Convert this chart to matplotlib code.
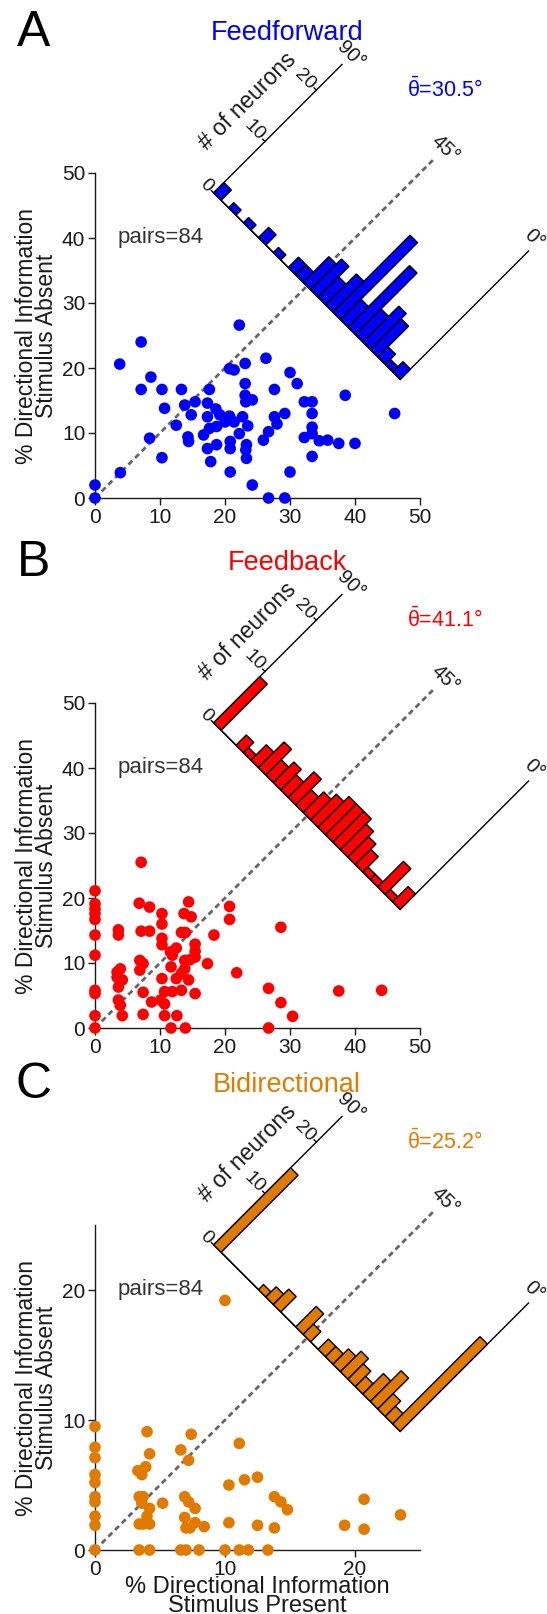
import numpy as np
import matplotlib
matplotlib.use("Agg")
import matplotlib.pyplot as plt
from matplotlib.transforms import Affine2D

plt.rcParams['font.family'] = ['Liberation Sans', 'DejaVu Sans']
plt.rcParams['mathtext.fontset'] = 'custom'
plt.rcParams['mathtext.rm'] = 'Liberation Sans'
plt.rcParams['mathtext.it'] = 'Liberation Sans'

# --- data -----------------------------------------------------------------
# % directional information, stimulus present (x) vs absent (y)
ff_x = [0, 0, 3.9, 3.8, 7.1, 7.1, 8.6, 8.4, 10.3, 10.7, 10.3, 12.5, 13.3, 13.8, 14.3,
        14.4, 14.8, 15.4, 16.7, 17.3, 17.3, 17.6, 17.3, 17.8, 17.6, 18.6, 18.7, 18.7,
        19.2, 20.0, 20.7, 20.8, 20.8, 20.8, 20.7, 21.4, 21.4, 22.2, 22.2, 22.7, 23.1,
        23.1, 23.1, 23.2, 23.3, 23.2, 23.3, 23.5, 24.2, 24.2, 25.9, 26.3, 26.7, 26.7,
        27.6, 27.6, 28.0, 29.2, 29.2, 30.0, 30.0, 31.1, 32.2, 32.2, 33.4, 33.4, 33.4,
        33.4, 33.4, 34.5, 35.8, 37.5, 38.5, 40.0, 46.1]
ff_y = [2.0, 0, 3.9, 20.6, 24.0, 16.7, 18.6, 9.2, 16.7, 13.8, 6.2, 11.2, 16.7, 14.3, 9.4,
        8.7, 12.8, 14.8, 9.7, 14.6, 12.5, 16.7, 7.6, 5.6, 10.7, 13.7, 11.0, 8.2,
        12.8, 11.7, 12.6, 8.7, 7.6, 4.0, 19.9, 19.7, 11.7, 26.6, 9.9, 12.5, 20.7,
        17.6, 15.8, 14.8, 8.2, 7.4, 6.1, 11.1, 15.1, 2.0, 8.9, 21.5, 10.2, 0,
        16.7, 12.5, 11.4, 13.0, 0, 19.3, 4.0, 17.6, 14.8, 9.3, 14.8, 13.0, 10.9,
        9.9, 6.4, 8.8, 8.9, 8.4, 15.8, 8.4, 13.0]

fb_x = [0, 0, 0, 0, 0, 0, 0, 0, 0, 0, 0, 3.6, 3.6, 3.4, 3.4, 3.9, 4.2, 3.6, 3.6, 3.9, 4.2,
        6.8, 7.1, 7.1, 6.9, 7.4, 6.9, 7.4, 7.4, 8.4, 8.4, 8.7, 10.3, 10.3, 10.3, 10.3,
        10.3, 10.1, 10.7, 10.7, 10.7, 11.6, 11.7, 11.7, 11.9, 11.9, 12.5, 12.5, 12.6,
        13.3, 13.3, 13.3, 13.7, 13.8, 13.8, 13.9, 13.9, 14.4, 14.4, 14.8, 14.6, 15.4,
        15.4, 15.4, 15.4, 17.3, 18.3, 20.7, 20.7, 21.8, 26.7, 26.7, 28.6, 28.6, 30.4,
        37.5, 44.1]
fb_y = [21.1, 19.1, 18.3, 17.6, 16.7, 14.3, 11.2, 5.8, 5.3, 1.9, 0, 15.1, 14.3, 8.6, 7.8,
        9.1, 7.4, 6.3, 4.3, 3.5, 1.9, 19.2, 25.5, 14.9, 10.4, 9.9, 8.9, 5.5, 2.1, 18.6,
        14.9, 4.0, 17.6, 16.0, 13.8, 12.8, 7.6, 4.3, 5.6, 3.7, 1.9, 11.7, 9.4, 0, 11.2,
        5.6, 12.3, 7.6, 1.9, 14.7, 8.4, 5.8, 17.6, 10.4, 9.1, 14.7, 0, 19.4, 7.4, 17.1,
        10.5, 12.9, 11.8, 10.9, 5.3, 9.9, 14.3, 18.7, 16.7, 8.5, 6.1, 0, 15.5, 3.9,
        1.8, 5.7, 5.8]

bi_x = [0, 0, 0, 0, 0, 0, 0, 0, 0, 0, 3.4, 3.3, 3.6, 3.9, 4.0, 4.2, 3.4, 3.7, 3.6, 4.2,
        3.4, 3.7, 4.0, 4.2, 4.2, 5.2, 6.6, 7.2, 7.4, 6.9, 7.2, 7.7, 6.9, 7.0, 7.3, 7.7,
        8.4, 6.6, 7.0, 8.0, 10.0, 10.3, 10.3, 10.0, 11.1, 11.5, 11.1, 11.8, 12.5, 12.5,
        13.3, 13.8, 13.8, 14.3, 14.8, 19.2, 20.7, 20.7, 23.5]
bi_y = [9.5, 7.9, 7.1, 5.8, 5.2, 4.1, 3.7, 2.6, 1.9, 0, 0, 6.1, 5.8, 6.4, 9.1, 7.4, 4.1,
        4.1, 3.6, 3.2, 2.0, 2.0, 2.6, 2.0, 0, 3.6, 7.7, 6.9, 8.9, 4.1, 3.7, 3.2, 2.5,
        1.7, 1.7, 2.1, 1.8, 0, 0, 0, 19.2, 5.0, 2.1, 0, 8.2, 5.4, 0, 0, 5.6, 1.9, 0,
        4.1, 1.7, 3.7, 3.1, 1.9, 3.9, 1.6, 2.7]

# number of neurons per angle bin, 25 bins running from 90 deg down to 0 deg
ff_hist = [2, 0, 1, 0, 1, 0, 2, 0, 1, 0, 2, 2, 5, 6, 4, 6, 15, 4, 12, 5, 7, 6, 2, 1, 2]
fb_hist = [9, 0, 0, 2, 1, 3, 5, 3, 4, 3, 5, 3, 4, 5, 6, 6, 6, 5, 4, 3, 1, 1, 5, 1, 3]
bi_hist = [15, 0, 0, 0, 0, 0, 1, 2, 3, 0, 0, 4, 2, 0, 2, 2, 3, 4, 3, 2, 4, 6, 3, 2, 17]

titles = ["Feedforward", "Feedback", "Bidirectional"]
letters = ["A", "B", "C"]
mean_theta = [30.5, 41.1, 25.2]
colors = ["#0000ff", "#ff0000", "#e07b00"]
n_pairs = 84
count_ticks = [0, 10, 20]
count_max = 25

# --- layout (pixels, origin top-left) --------------------------------------
W, H = 547, 1614
fig = plt.figure(figsize=(W / 100, H / 100), dpi=100)


def px_axes(x0, y0, x1, y1):
    return fig.add_axes([x0 / W, 1 - y1 / H, (x1 - x0) / W, (y1 - y0) / H])


def fig_text(x, y, s, **kw):
    fig.text(x / W, 1 - y / H, s, **kw)


panel_boxes = [(95, 173, 420, 498), (95, 703, 420, 1028), (95, 1225, 420, 1550)]
panel_tops = [33, 563, 1085]

# histogram geometry, in axes fraction of the scatter axes
S = (0.365, 0.939)   # 90 deg end of the baseline
bw = 0.02296         # per bin, each component
cs = 0.0158          # per neuron, each component
hist_tr = Affine2D(np.array([[bw, cs, S[0]], [-bw, cs, S[1]], [0, 0, 1]]))

data = [(ff_x, ff_y, ff_hist), (fb_x, fb_y, fb_hist), (bi_x, bi_y, bi_hist)]
txt_col = "#1a1a1a"

for i, (xs, ys, hist) in enumerate(data):
    ax = px_axes(*panel_boxes[i])
    col = colors[i]
    lim = 25 if i == 2 else 50
    ticks = [0, 10, 20] if i == 2 else [0, 10, 20, 30, 40, 50]

    ax.scatter(xs, ys, s=70, color=col, edgecolors="none", clip_on=False, zorder=3)
    ax.set_xlim(0, lim)
    ax.set_ylim(0, lim)
    ax.set_xticks(ticks)
    ax.set_yticks(ticks)
    for sp in ["top", "right"]:
        ax.spines[sp].set_visible(False)
    for sp in ["left", "bottom"]:
        ax.spines[sp].set_color(txt_col)
        ax.spines[sp].set_linewidth(1)
    ax.tick_params(length=5, width=1, color=txt_col, labelsize=15,
                   labelcolor=txt_col, pad=2)

    ax.set_ylabel("% Directional Information\nStimulus Absent", fontsize=16.5,
                  color=txt_col, linespacing=0.8, va="center")
    ax.yaxis.set_label_coords(-0.18, 0.5)
    if i == 2:
        ax.set_xlabel("% Directional Information\nStimulus Present", fontsize=17,
                      color=txt_col, linespacing=0.8)
        ax.xaxis.set_label_coords(0.5, -0.08)

    ax.text(0.068, 0.80, f"pairs={n_pairs}", transform=ax.transAxes, fontsize=16,
            color="#333333", va="center", ha="left")

    # diagonal unity line
    ax.plot([0, 1.045], [0, 1.045], transform=ax.transAxes, clip_on=False,
            color="#666666", lw=2, dashes=(2.0, 1.4), zorder=2)
    ax.text(1.077, 1.074, "45°", transform=ax.transAxes, rotation=-45,
            rotation_mode="anchor", ha="center", va="center", fontsize=14.5,
            color=txt_col)

    # rotated angle histogram
    tr = hist_tr + ax.transAxes
    nb = len(hist)
    ax.bar(np.arange(nb), hist, width=1, align="edge", color=col,
           edgecolor="black", linewidth=1, transform=tr, clip_on=False, zorder=4)
    ax.plot([0, nb], [0, 0], color="black", lw=1, transform=tr, clip_on=False, zorder=3)
    ax.plot([0, 0], [0, count_max], color="black", lw=1, transform=tr, clip_on=False)
    ax.plot([nb, nb], [0, count_max], color="black", lw=1, transform=tr, clip_on=False)
    for t in count_ticks:
        ax.plot([0, -0.3], [t, t], color="black", lw=1, transform=tr, clip_on=False)
        ax.text(-0.45, t, str(t), transform=tr, rotation=-45, rotation_mode="anchor",
                ha="right", va="center", fontsize=14, color=txt_col)
    ax.text(-3.9, 12.2, "# of neurons", transform=tr, rotation=45,
            rotation_mode="anchor", ha="center", va="center", fontsize=16.5,
            color=txt_col)
    ax.text(-0.1, count_max + 1.8, "90°", transform=tr, rotation=-45,
            rotation_mode="anchor", ha="center", va="center", fontsize=14.5,
            color=txt_col)
    ax.text(nb - 0.4, count_max + 1.7, "0°", transform=tr, rotation=-45,
            rotation_mode="anchor", ha="center", va="center", fontsize=14.5,
            color=txt_col)

    top = panel_tops[i]
    fig_text(34, top, letters[i], fontsize=36, ha="center", va="center", color="black")
    fig_text(287, top, titles[i], fontsize=19.5, ha="center", va="center", color=col)
    fig_text(445, top + 57, r"$\bar{\theta}$" + f"={mean_theta[i]}°", fontsize=15.5,
             ha="center", va="center", color=col)

fig.savefig("out.png", dpi=100)
